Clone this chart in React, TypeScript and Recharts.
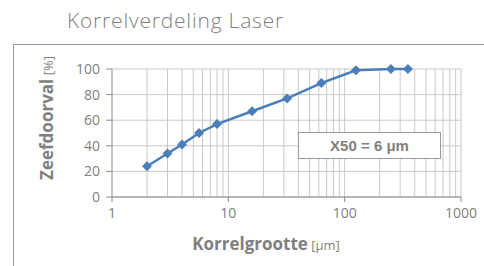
import { CartesianGrid, Label, Line, LineChart, ReferenceLine, XAxis, YAxis } from "recharts";

const sizes = [2, 3, 4, 5.6, 8, 16, 32, 63, 125, 250, 350];
const passing = [24, 34, 41, 50, 57, 67, 77, 89, 99, 100, 100];
const xTicks = [1, 10, 100, 1000];
const yTicks = [0, 20, 40, 60, 80, 100];
const minorX = [2, 3, 4, 5, 6, 7, 8, 9, 10, 20, 30, 40, 50, 60, 70, 80, 90, 100, 200, 300, 400, 500, 600, 700, 800, 900, 1000];

const data = sizes.map((s, i) => ({ size: s, pct: passing[i] }));

const GREY = "#7f7f7f";
const BLUE = "#4a7ebb";

function Diamond(props: any) {
  const { cx, cy } = props;
  if (cx == null || cy == null) return null;
  const r = 5;
  return <path d={`M${cx},${cy - r}L${cx + r},${cy}L${cx},${cy + r}L${cx - r},${cy}Z`} fill={BLUE} />;
}

export default function App() {
  return (
    <div style={{ position: "fixed", left: 0, top: 0, width: 484, height: 266, background: "#fff", fontFamily: "'Open Sans', sans-serif" }}>
      <div style={{ position: "absolute", left: 67, top: 6, fontSize: 21, fontWeight: 300, color: "#808080", letterSpacing: 0.8 }}>
        Korrelverdeling Laser
      </div>
      <div style={{ position: "absolute", left: 13, top: 44, width: 480, height: 230, borderLeft: "1.5px solid #9a9a9a", borderTop: "1.5px solid #9a9a9a" }} />
      <LineChart width={484} height={266} data={data} margin={{ top: 69, right: 23, bottom: 39, left: 0 }} style={{ position: "absolute", left: 0, top: 0 }}>
        <CartesianGrid stroke="#c8c8c8" vertical={false} />
        {minorX.map((v) => (
          <ReferenceLine key={v} x={v} stroke="#c8c8c8" />
        ))}
        <XAxis
          dataKey="size"
          type="number"
          scale="log"
          domain={[1, 1000]}
          ticks={xTicks}
          allowDataOverflow
          height={30}
          stroke="#8a8a8a"
          tickSize={5}
          tickMargin={6}
          tick={{ fontSize: 14, fill: GREY, fontFamily: "'Open Sans', sans-serif" }}
        >
          <Label
            content={() => (
              <text x={266} y={250} textAnchor="middle" fill={GREY} fontFamily="'Open Sans', sans-serif">
                <tspan fontSize={17} fontWeight="bold">Korrelgrootte</tspan>
                <tspan fontSize={13}> [μm]</tspan>
              </text>
            )}
          />
        </XAxis>
        <YAxis
          type="number"
          domain={[0, 100]}
          ticks={yTicks}
          width={112}
          stroke="#8a8a8a"
          tickSize={6}
          tickMargin={6}
          tick={{ fontSize: 14, fill: GREY, fontFamily: "'Open Sans', sans-serif" }}
        >
          <Label
            content={() => (
              <text x={0} y={0} transform="translate(53,118) rotate(-90)" textAnchor="middle" fill={GREY} fontFamily="'Open Sans', sans-serif">
                <tspan fontSize={17} fontWeight="bold">Zeefdoorval</tspan>
                <tspan fontSize={13}> [%]</tspan>
              </text>
            )}
          />
        </YAxis>
        <Line dataKey="pct" stroke={BLUE} strokeWidth={2.5} dot={<Diamond />} isAnimationActive={false} />
      </LineChart>
      <div
        style={{
          position: "absolute",
          left: 298,
          top: 132,
          width: 143,
          height: 27,
          border: "1.5px solid #9a9a9a",
          background: "#fff",
          boxSizing: "border-box",
          display: "flex",
          alignItems: "center",
          justifyContent: "center",
          fontFamily: "'Liberation Sans', Arial, sans-serif",
          fontWeight: "bold",
          fontSize: 15,
          color: GREY,
        }}
      >
        X50 = 6 μm
      </div>
    </div>
  );
}
